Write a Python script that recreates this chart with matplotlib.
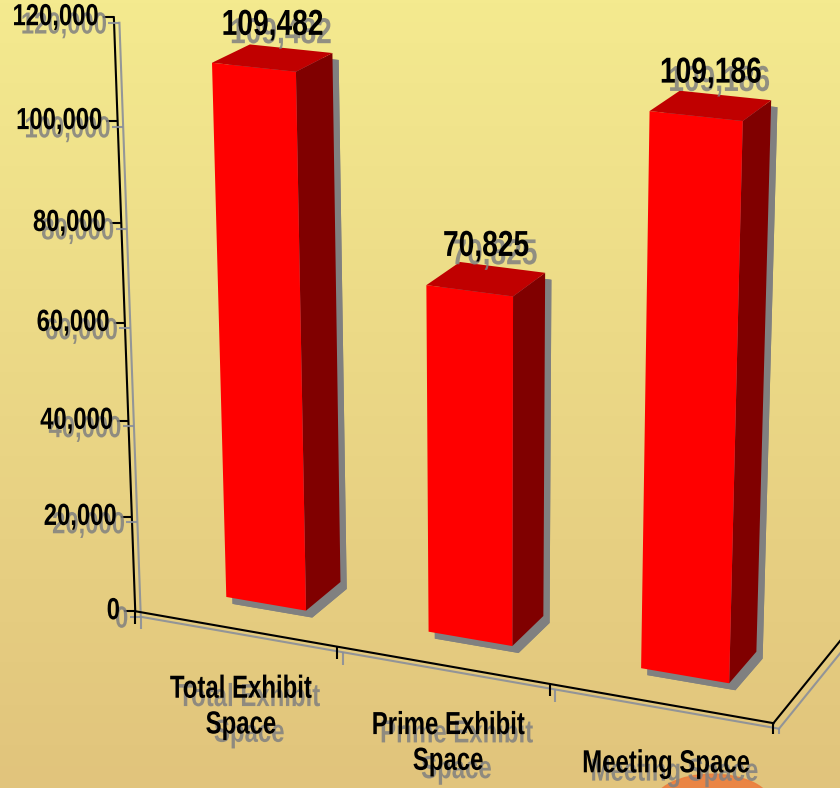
import numpy as np
import matplotlib.pyplot as plt
import matplotlib.patheffects as pe
from matplotlib.colors import LinearSegmentedColormap
from matplotlib.transforms import ScaledTranslation, Affine2D
from matplotlib.patches import Ellipse

# data
categories = ['Total Exhibit\nSpace', 'Prime Exhibit\nSpace', 'Meeting Space']
values = [109482, 70825, 109186]
value_ticks = [0, 20000, 40000, 60000, 80000, 100000, 120000]

font = ['Liberation Sans', 'DejaVu Sans']
front_col = '#FF0000'
top_col = '#C00000'
side_col = '#800000'
shadow_col = '#808080'


class Condensed(pe.AbstractPathEffect):
    """Squeeze text horizontally around an anchor, then hand over to other effects."""

    def __init__(self, sx, anchor, inner):
        super().__init__()
        self.sx = sx
        self.anchor = anchor
        self.inner = inner

    def draw_path(self, renderer, gc, tpath, affine, rgbFace=None):
        ext = tpath.get_extents()
        pivot = ext.x0 + self.anchor * ext.width
        squeeze = Affine2D().translate(-pivot, 0).scale(self.sx, 1).translate(pivot, 0)
        for fx in self.inner:
            fx.draw_path(renderer, gc, tpath, squeeze + affine, rgbFace)


def text_fx(anchor, sx=0.78):
    return [Condensed(sx, anchor, [pe.SimplePatchShadow(offset=(6, -6), shadow_rgbFace=shadow_col, alpha=0.85),
                                   pe.Normal()])]


def shifted(dx, dy):
    # offset in pixels on top of the projected 3d position
    return ax.transData + ScaledTranslation(dx / 100, dy / 100, fig.dpi_scale_trans)


fig = plt.figure(figsize=(8.4, 7.88), dpi=100)

# background gradient
bg = fig.add_axes([0, 0, 1, 1], zorder=0)
bg.set_axis_off()
grad = np.linspace(0, 1, 256)[:, None]
bg_cmap = LinearSegmentedColormap.from_list('bg', ['#F4EA8F', '#E1C47C'])
bg.imshow(grad, aspect='auto', cmap=bg_cmap, extent=[0, 1, 0, 1])
bg.add_patch(Ellipse((0.848, -0.02), 0.14, 0.075, color='#EC7E3E', alpha=0.9))
bg.set_xlim(0, 1)
bg.set_ylim(0, 1)

ax = fig.add_axes([0.0725, 0.0688, 1, 1], projection='3d', zorder=1)
ax.patch.set_visible(False)
ax.set_axis_off()
ax.computed_zorder = False
ax.set_proj_type('persp', focal_length=0.8)
ax.view_init(elev=18.5, azim=-67)
ax.set_xlim(0, 3)
ax.set_ylim(0, 1)
ax.set_zlim(0, 120000)
ax.set_box_aspect((2.76, 1, 2.5), zoom=1.195)

line_fx = [pe.SimpleLineShadow(offset=(4, -4), shadow_color='#8A8F9A', alpha=0.9), pe.Normal()]

# axis lines: value axis, front floor edge, right floor edge
ax.plot([0, 0], [0, 0], [0, 120000], color='black', lw=1.5, path_effects=line_fx, zorder=2)
ax.plot([0, 3], [0, 0], [0, 0], color='black', lw=1.5, path_effects=line_fx, zorder=2)
ax.plot([3, 3], [0, 1], [0, 0], color='black', lw=1.5, path_effects=line_fx, zorder=2)

# tick marks
ax.plot(np.zeros(len(value_ticks)), np.zeros(len(value_ticks)), value_ticks,
        ls='none', marker=0, ms=8, mew=1.5, color='black', path_effects=line_fx, zorder=2)
ax.plot([0, 1, 2, 3], [0, 0, 0, 0], [0, 0, 0, 0],
        ls='none', marker=3, ms=9, mew=1.5, color='black', path_effects=line_fx, zorder=2)

# bars
n = len(values)
bw = 0.4
bd = 0.33
xs = np.arange(n) + 0.5 - bw / 2
y0 = 0.28
face_colors = []
for i in range(n):
    # faces: bottom, top, front, back, left, right
    face_colors += ['none', top_col, front_col, 'none', 'none', side_col]
bars = ax.bar3d(xs, np.full(n, y0), np.zeros(n), bw, bd, values,
                color=face_colors, shade=False, linewidth=0, zorder=3)
bars.set_path_effects([pe.SimplePatchShadow(offset=(4.5, -5), shadow_rgbFace=shadow_col, alpha=1),
                       pe.Normal()])

# value tick labels
for v in value_ticks:
    ax.text(0, 0, v, f'{v:,}', ha='right', va='center', fontsize=22,
            fontweight='bold', family=font, path_effects=text_fx(1.0), zorder=4,
            transform=shifted(-15, 0))

# value labels above the bars
for i, v in enumerate(values):
    ax.text(xs[i] + bw / 2, y0 + bd / 2, v, f'{v:,}', ha='center', va='bottom', fontsize=26,
            fontweight='bold', family=font, path_effects=text_fx(0.5), zorder=4,
            transform=shifted(0, 15))

# category labels under the floor edge
for i, c in enumerate(categories):
    ax.text(i + 0.5, 0, 0, c, ha='center', va='top', fontsize=23, fontweight='bold',
            family=font, path_effects=text_fx(0.5, 0.75), zorder=4, linespacing=1.25,
            transform=shifted(6, -46))

fig.savefig('out.png', dpi=100)
